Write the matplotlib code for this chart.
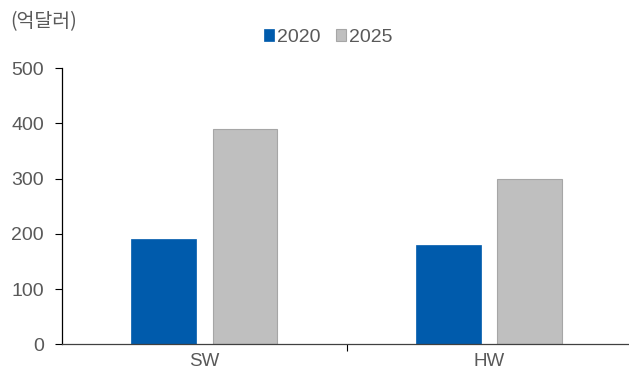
import matplotlib.pyplot as plt
import numpy as np

categories = ["SW", "HW"]
series_names = ["2020", "2025"]
values_2020 = [190, 180]
values_2025 = [390, 300]

BLUE = "#005BAC"
GRAY = "#BFBFBF"
TEXT = "#595959"
NUM_FONT = ["Liberation Sans", "DejaVu Sans"]
KR_FONT = ["Noto Sans CJK KR", "DejaVu Sans"]

fig = plt.figure(figsize=(6.29, 3.74), dpi=100)
ax = fig.add_axes([0.0986, 0.079, 0.905, 0.739])

x = np.arange(len(categories))
width = 0.228
off = 0.143
ax.bar(x - off, values_2020, width, color=BLUE, edgecolor=BLUE, linewidth=0.5,
       label=series_names[0], zorder=2)
ax.bar(x + off, values_2025, width, color=GRAY, edgecolor="#A6A6A6", linewidth=0.8,
       label=series_names[1], zorder=2)

ax.set_xlim(-0.5, 1.5)
ax.set_ylim(0, 500)
ax.set_yticks(range(0, 501, 100))
ax.tick_params(axis="y", direction="out", length=5, width=0.8, colors="black",
               labelcolor=TEXT, labelsize=14, pad=8)

# category labels centred, tick mark only between the groups
ax.set_xticks([0.5])
ax.set_xticklabels([""])
ax.tick_params(axis="x", direction="out", length=5, width=0.8)
for xi, name in zip(x, categories):
    ax.text(xi, -15, name, ha="center", va="top", fontsize=13.5, color=TEXT,
            family=NUM_FONT)
for lab in ax.get_yticklabels():
    lab.set_family(NUM_FONT)

for side in ("top", "right"):
    ax.spines[side].set_visible(False)
ax.spines["left"].set_linewidth(0.9)
ax.spines["bottom"].set_linewidth(0.9)
ax.spines["bottom"].set_color("#404040")

fig.text(0.016, 0.942, "(억달러)", fontsize=14, color=TEXT, family=KR_FONT,
         va="center", ha="left")

leg = ax.legend(loc="center", bbox_to_anchor=(0.522, 0.9),
                bbox_transform=fig.transFigure, ncol=2, frameon=False,
                handlelength=0.5, handleheight=0.5, handletextpad=0.15,
                columnspacing=0.8, prop={"family": NUM_FONT, "size": 14})
for t in leg.get_texts():
    t.set_color(TEXT)

fig.savefig("out.png", dpi=100, facecolor="white")
